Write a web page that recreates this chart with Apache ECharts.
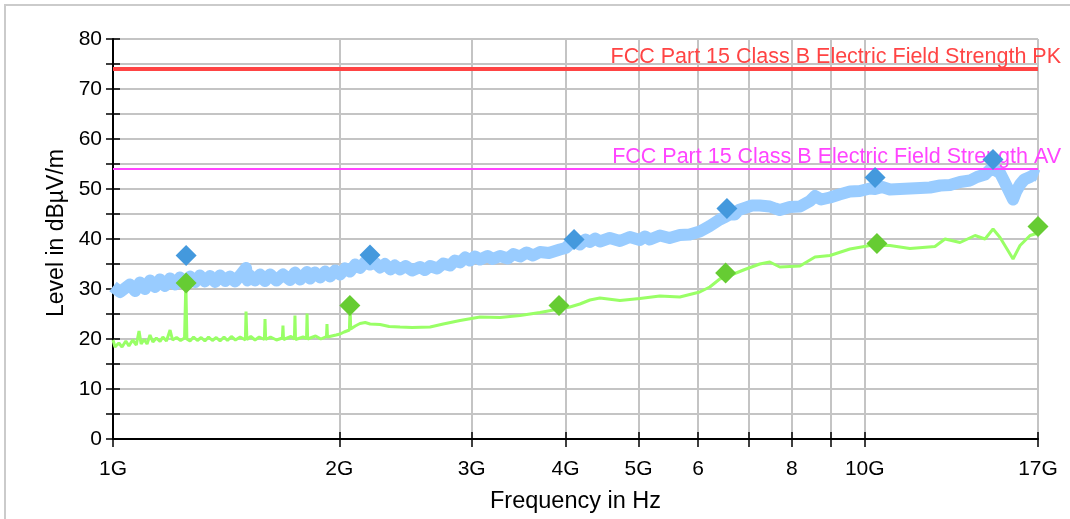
<!DOCTYPE html>
<html>
<head>
<meta charset="utf-8">
<script src="https://cdn.jsdelivr.net/npm/echarts@6/dist/echarts.min.js"></script>
<style>
    html, body { margin: 0; padding: 0; background: #fff; overflow: hidden; }
    #frame { position: absolute; left: 4px; top: 4px; width: 1200px; height: 700px; border: 2px solid #cbcbcb; }
    #chart { position: absolute; left: 0; top: 0; width: 1070px; height: 519px; }
</style>
</head>
<body>
<div id="frame"></div>
<div id="chart"></div>
<script>
// frequency in GHz, level in dBuV/m
var peakTrace = [
    [1.000, 30.5], [1.022, 29.4], [1.053, 30.9], [1.070, 29.6], [1.086, 31.3], [1.103, 30.0],
    [1.120, 31.7], [1.137, 30.4], [1.155, 31.9], [1.172, 30.6], [1.191, 32.1], [1.209, 30.9],
    [1.228, 32.3], [1.250, 31.2], [1.266, 32.5], [1.286, 31.4], [1.305, 32.7], [1.325, 31.5],
    [1.346, 32.6], [1.367, 31.4], [1.388, 32.7], [1.410, 31.6], [1.431, 32.5], [1.453, 31.5],
    [1.476, 32.7], [1.503, 34.2], [1.510, 31.7], [1.521, 32.7], [1.545, 31.7], [1.569, 32.9],
    [1.593, 31.6], [1.618, 32.9], [1.650, 31.7], [1.683, 32.9], [1.720, 31.8], [1.746, 33.3],
    [1.773, 31.9], [1.812, 33.4], [1.829, 32.1], [1.856, 33.3], [1.886, 32.3], [1.915, 33.5],
    [1.944, 32.5], [1.975, 33.7], [2.005, 32.9], [2.035, 34.1], [2.067, 33.5], [2.100, 34.9],
    [2.131, 34.2], [2.164, 35.4], [2.198, 34.9], [2.230, 35.3], [2.266, 34.3], [2.300, 35.0],
    [2.340, 33.9], [2.370, 34.7], [2.409, 33.9], [2.450, 34.6], [2.500, 33.7], [2.561, 34.4],
    [2.600, 33.8], [2.641, 34.6], [2.700, 34.1], [2.750, 35.1], [2.808, 34.7], [2.850, 35.7],
    [2.895, 35.3], [2.940, 36.3], [2.985, 35.7], [3.030, 36.5], [3.078, 35.9], [3.150, 36.6],
    [3.200, 36.0], [3.272, 36.6], [3.350, 36.1], [3.410, 37.0], [3.479, 36.5], [3.550, 37.3],
    [3.620, 36.7], [3.698, 37.4], [3.800, 37.2], [3.931, 37.9], [4.000, 38.2], [4.053, 39.0],
    [4.120, 39.3], [4.179, 38.9], [4.250, 39.9], [4.309, 39.4], [4.380, 40.1], [4.443, 39.5],
    [4.580, 40.2], [4.724, 39.6], [4.870, 40.4], [5.021, 39.8], [5.100, 40.5], [5.178, 39.9],
    [5.339, 40.7], [5.500, 40.2], [5.675, 40.8], [5.850, 40.9], [6.033, 41.5], [6.120, 42.0],
    [6.221, 42.6], [6.310, 43.2], [6.414, 43.9], [6.514, 44.4], [6.614, 44.9], [6.716, 44.9],
    [6.800, 45.8], [6.925, 46.2], [7.080, 46.7], [7.250, 46.7], [7.476, 46.5], [7.600, 46.1],
    [7.709, 45.8], [7.950, 46.4], [8.200, 46.5], [8.455, 47.6], [8.586, 48.6], [8.750, 47.9],
    [8.989, 48.3], [9.250, 48.9], [9.557, 49.5], [9.850, 49.6], [10.161, 50.1], [10.317, 50.0],
    [10.550, 50.4], [10.802, 49.9], [11.138, 50.0], [11.484, 50.1], [11.850, 50.2], [12.210, 50.3],
    [12.600, 50.7], [12.985, 50.8], [13.389, 51.4], [13.805, 51.7], [14.100, 52.4], [14.454, 52.9],
    [14.677, 53.9], [14.900, 53.8], [15.134, 53.2], [15.300, 51.8], [15.509, 50.0], [15.749, 47.9],
    [15.900, 49.5], [16.090, 50.9], [16.300, 51.9], [16.591, 52.4], [16.800, 52.9], [17.000, 52.6]
];

var avgTrace = [
    [1.000, 19.8], [1.006, 18.4], [1.018, 19.2], [1.028, 18.4], [1.040, 19.6], [1.050, 18.6],
    [1.062, 19.8], [1.074, 18.8], [1.083, 21.6], [1.090, 19.0], [1.100, 19.9], [1.110, 19.0],
    [1.120, 20.8], [1.130, 19.4], [1.142, 20.2], [1.155, 19.5], [1.165, 20.4], [1.178, 19.6],
    [1.191, 21.8], [1.200, 19.8], [1.215, 20.3], [1.230, 19.7], [1.245, 20.2], [1.250, 31.2],
    [1.254, 20.0], [1.266, 19.6], [1.280, 20.4], [1.295, 19.7], [1.310, 20.3], [1.325, 19.6],
    [1.340, 20.4], [1.356, 19.7], [1.372, 20.3], [1.388, 19.6], [1.405, 20.4], [1.420, 19.7],
    [1.437, 20.5], [1.455, 19.8], [1.476, 20.4], [1.500, 19.8], [1.503, 25.5], [1.507, 19.9],
    [1.525, 20.5], [1.545, 19.8], [1.565, 20.4], [1.590, 19.9], [1.593, 24.0], [1.596, 19.9],
    [1.620, 20.4], [1.650, 19.8], [1.680, 20.2], [1.683, 22.7], [1.686, 19.9], [1.725, 20.5],
    [1.743, 20.0], [1.746, 24.7], [1.749, 19.9], [1.790, 20.4], [1.809, 20.1], [1.812, 25.1],
    [1.815, 20.0], [1.860, 20.6], [1.890, 20.0], [1.923, 20.5], [1.926, 23.0], [1.929, 20.4],
    [1.980, 20.8], [2.005, 21.0], [2.030, 21.4], [2.063, 21.8], [2.067, 26.7], [2.071, 22.0],
    [2.100, 22.6], [2.131, 23.1], [2.165, 23.3], [2.198, 23.0], [2.266, 22.9], [2.330, 22.5],
    [2.409, 22.4], [2.500, 22.3], [2.641, 22.4], [2.750, 23.0], [2.895, 23.7], [3.078, 24.4],
    [3.272, 24.3], [3.479, 24.7], [3.698, 25.3], [3.920, 26.0], [4.053, 26.4], [4.179, 27.0],
    [4.309, 27.8], [4.443, 28.2], [4.724, 27.7], [5.021, 28.1], [5.339, 28.6], [5.675, 28.4],
    [6.033, 29.4], [6.221, 30.4], [6.414, 32.0], [6.614, 32.7], [6.925, 33.9], [7.250, 35.0],
    [7.476, 35.4], [7.709, 34.4], [8.200, 34.6], [8.455, 35.8], [8.586, 36.4], [8.989, 36.7],
    [9.557, 38.0], [10.161, 38.7], [10.802, 38.7], [11.484, 38.1], [12.398, 38.5], [12.788, 40.0],
    [13.389, 39.3], [14.019, 40.7], [14.454, 40.0], [14.813, 42.0], [15.134, 40.3], [15.749, 36.0],
    [16.090, 38.7], [16.591, 40.7], [17.000, 41.2]
];

// final measurements (diamonds)
var peakFinals = [[1.251, 36.7], [2.197, 36.8], [4.105, 39.9], [6.556, 46.1], [10.32, 52.3], [14.81, 55.9]];
var avgFinals = [[1.251, 31.2], [2.066, 26.7], [3.920, 26.7], [6.530, 33.2], [10.38, 39.1], [17.0, 42.5]];

var pkLimit = 74;
var avLimit = 54;
var pkLimitName = 'FCC Part 15 Class B Electric Field Strength PK';
var avLimitName = 'FCC Part 15 Class B Electric Field Strength AV';

var tickFreqs = [1, 2, 3, 4, 5, 6, 7, 8, 9, 10, 17];
var labelFreqs = [1, 2, 3, 4, 5, 6, 8, 10, 17];
var labelTexts = ['1G', '2G', '3G', '4G', '5G', '6', '8', '10G', '17G'];

var font = '"Liberation Sans", Arial, Helvetica, sans-serif';

var myChart = echarts.init(document.getElementById('chart'), null, {renderer: 'canvas'});
var option = {
    animation: false,
    backgroundColor: 'transparent',
    grid: {
        left: 113,
        right: 32,
        top: 39,
        bottom: 78
    },
    xAxis: [
        {
            type: 'log',
            logBase: 10,
            min: 1,
            max: 17,
            name: 'Frequency in Hz',
            nameLocation: 'middle',
            nameGap: 51,
            nameTextStyle: {color: '#000', fontSize: 23.5, fontFamily: font},
            axisLine: {lineStyle: {color: '#000', width: 2}},
            axisTick: {show: true, inside: false, length: 8, customValues: tickFreqs, lineStyle: {color: '#000', width: 1.5}},
            axisLabel: {
                customValues: labelFreqs,
                color: '#000',
                fontSize: 21,
                fontFamily: font,
                margin: 20,
                formatter: function (v) {
                    for (var i = 0; i < labelFreqs.length; i++) {
                        if (Math.abs(labelFreqs[i] - v) < 1e-6) return labelTexts[i];
                    }
                    return '';
                }
            },
            splitLine: {show: true, lineStyle: {color: '#c4c4c4', width: 2}},
            minorTick: {show: false},
            minorSplitLine: {show: false}
        },
        {
            // second axis only for the ticks that reach into the plot
            type: 'log',
            logBase: 10,
            min: 1,
            max: 17,
            position: 'bottom',
            axisLine: {show: false},
            axisTick: {show: true, inside: true, length: 7, customValues: tickFreqs, lineStyle: {color: '#000', width: 1.5}},
            axisLabel: {show: false},
            splitLine: {show: false}
        }
    ],
    yAxis: [
        {
            type: 'value',
            min: 0,
            max: 80,
            interval: 5,
            name: 'Level in dBµV/m',
            nameLocation: 'middle',
            nameGap: 44,
            nameTextStyle: {color: '#000', fontSize: 23, fontFamily: font, padding: [0, 0, 0, 12]},
            axisLine: {show: true, lineStyle: {color: '#000', width: 2}},
            axisTick: {show: true, inside: false, length: 7, lineStyle: {color: '#000', width: 1.5}},
            axisLabel: {
                color: '#000',
                fontSize: 21,
                fontFamily: font,
                margin: 11,
                formatter: function (v) {
                    return v % 10 === 0 ? String(v) : '';
                }
            },
            splitLine: {show: true, lineStyle: {color: '#c4c4c4', width: 2}}
        },
        {
            type: 'value',
            min: 0,
            max: 80,
            interval: 5,
            position: 'left',
            axisLine: {show: false},
            axisTick: {show: true, inside: true, length: 7, lineStyle: {color: '#000', width: 1.5}},
            axisLabel: {show: false},
            splitLine: {show: false}
        }
    ],
    series: [
        {
            name: 'Peak',
            type: 'line',
            data: peakTrace,
            showSymbol: false,
            symbol: 'none',
            lineStyle: {color: '#99ccff', width: 12, join: 'round', cap: 'butt'},
            z: 2
        },
        {
            name: 'Average',
            type: 'line',
            data: avgTrace,
            showSymbol: false,
            symbol: 'none',
            lineStyle: {color: '#99ff66', width: 3},
            z: 3
        },
        {
            name: 'PK limit',
            type: 'line',
            data: [],
            z: 4,
            markLine: {
                silent: true,
                symbol: ['none', 'none'],
                lineStyle: {color: '#ff4444', width: 4, type: 'solid'},
                label: {
                    show: true,
                    position: 'insideEndTop',
                    formatter: pkLimitName,
                    color: '#ff4444',
                    fontSize: 21.5,
                    fontFamily: font,
                    distance: 1,
                    offset: [24, 0]
                },
                data: [{yAxis: pkLimit}]
            }
        },
        {
            name: 'AV limit',
            type: 'line',
            data: [],
            z: 4,
            markLine: {
                silent: true,
                symbol: ['none', 'none'],
                lineStyle: {color: '#ff44ff', width: 2, type: 'solid'},
                label: {
                    show: true,
                    position: 'insideEndTop',
                    formatter: avLimitName,
                    color: '#ff44ff',
                    fontSize: 21.5,
                    fontFamily: font,
                    distance: 1,
                    offset: [24, 0]
                },
                data: [{yAxis: avLimit}]
            }
        },
        {
            name: 'Peak final',
            type: 'scatter',
            data: peakFinals,
            symbol: 'diamond',
            symbolSize: 21,
            itemStyle: {color: '#4499dd', opacity: 1},
            z: 6
        },
        {
            name: 'Average final',
            type: 'scatter',
            data: avgFinals,
            symbol: 'diamond',
            symbolSize: 21,
            itemStyle: {color: '#66cc33', opacity: 1},
            z: 6
        }
    ]
};
myChart.setOption(option);
</script>
</body>
</html>
